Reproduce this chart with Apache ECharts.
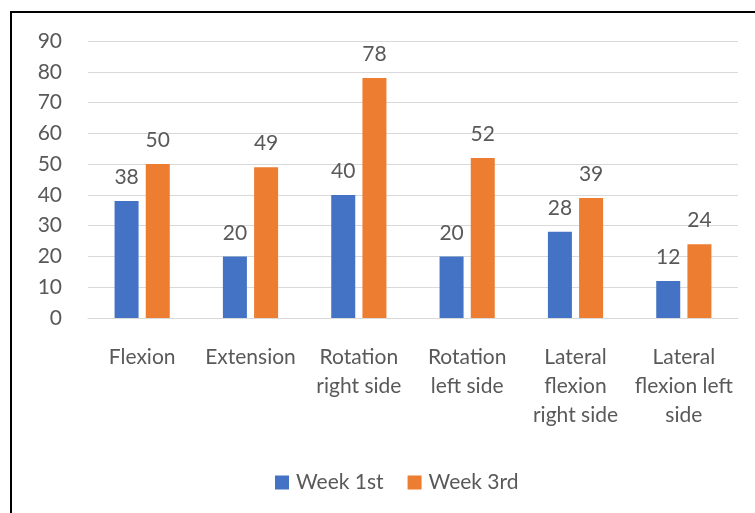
<!DOCTYPE html>
<html>
<head>
<meta charset="utf-8">
<title></title>
<style>
  html, body { margin: 0; padding: 0; background: #fff; }
  #main { width: 755px; height: 513px; }
</style>
</head>
<body>
<div id="main"></div>
<script src="https://cdn.jsdelivr.net/npm/echarts@6/dist/echarts.min.js"></script>
<script>
var categories = ['Flexion', 'Extension', 'Rotation\nright side', 'Rotation\nleft side',
  'Lateral\nflexion\nright side', 'Lateral\nflexion left\nside'];
var week1 = [38, 20, 40, 20, 28, 12];
var week3 = [50, 49, 78, 52, 39, 24];
var yTicks = { min: 0, max: 90, interval: 10 };

var textColor = '#595959';
var fontName = 'Lato, "Open Sans", sans-serif';
var fs = 21;

var chart = echarts.init(document.getElementById('main'));
var option = {
  animation: false,
  textStyle: { fontFamily: fontName },
  // frame around the chart
  graphic: [{
    type: 'rect',
    shape: { x: 11, y: 12, width: 760, height: 520 },
    style: { fill: 'none', stroke: '#000', lineWidth: 2 },
    silent: true
  }],
  grid: { left: 88, right: 17, top: 41, bottom: 195 },
  legend: {
    bottom: 15,
    left: 270,
    itemWidth: 14,
    itemHeight: 14,
    itemGap: 24,
    icon: 'rect',
    textStyle: { color: textColor, fontSize: fs, fontFamily: fontName, padding: [0, 0, 0, 2] },
    data: ['Week 1st', 'Week 3rd']
  },
  xAxis: {
    type: 'category',
    data: categories,
    axisTick: { show: false },
    axisLine: { lineStyle: { color: '#D9D9D9', width: 1 } },
    axisLabel: {
      color: textColor, fontSize: fs, lineHeight: 29, margin: 25,
      interval: 0, fontFamily: fontName
    }
  },
  yAxis: {
    type: 'value',
    min: yTicks.min, max: yTicks.max, interval: yTicks.interval,
    axisLine: { show: false },
    axisTick: { show: false },
    splitLine: { lineStyle: { color: '#D9D9D9', width: 1 } },
    axisLabel: { color: textColor, fontSize: fs, margin: 26, fontFamily: fontName }
  },
  series: [{
    name: 'Week 1st',
    type: 'bar',
    data: week1,
    barWidth: 24,
    barGap: '30%',
    itemStyle: { color: '#4472C4' },
    label: { show: true, position: 'top', distance: 13, color: textColor, fontSize: fs, fontFamily: fontName }
  }, {
    name: 'Week 3rd',
    type: 'bar',
    data: week3,
    barWidth: 24,
    itemStyle: { color: '#ED7D31' },
    label: { show: true, position: 'top', distance: 13, color: textColor, fontSize: fs, fontFamily: fontName }
  }]
};
chart.setOption(option);
</script>
</body>
</html>
